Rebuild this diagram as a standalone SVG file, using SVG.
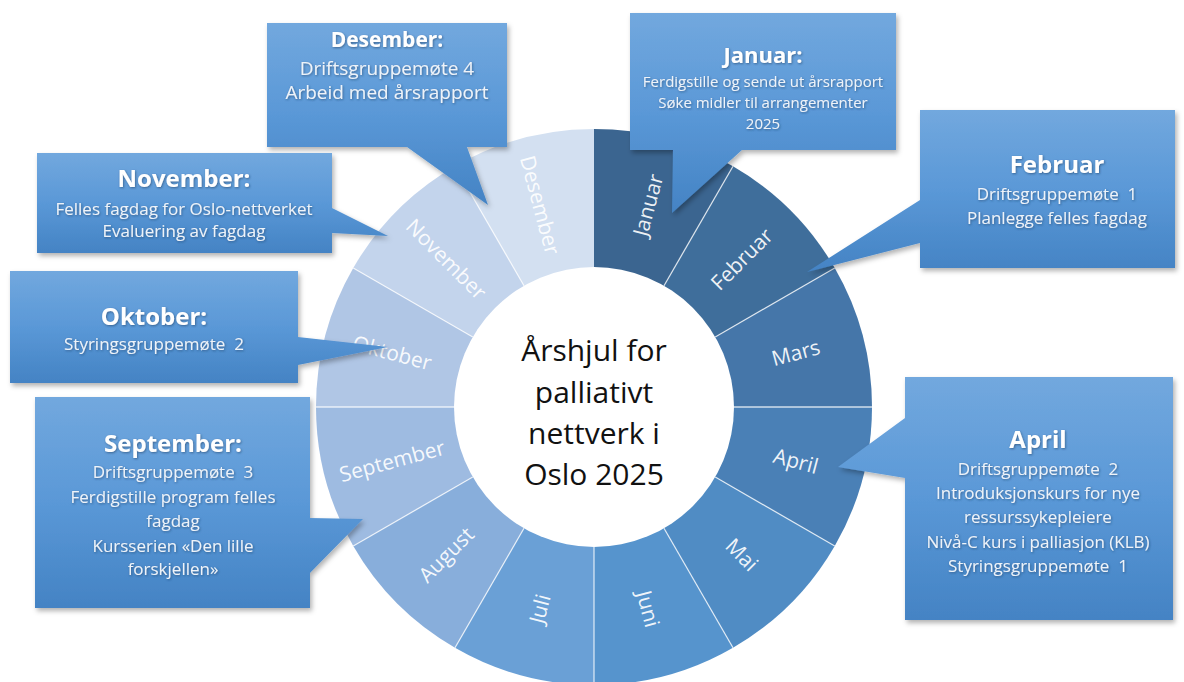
<svg xmlns="http://www.w3.org/2000/svg" width="1184" height="682" viewBox="0 0 1184 682">
<defs>
<linearGradient id="boxGrad" x1="0" y1="0" x2="0" y2="1">
<stop offset="0" stop-color="#72a8de"/>
<stop offset="0.5" stop-color="#5a98d7"/>
<stop offset="1" stop-color="#4483c4"/>
</linearGradient>
<filter id="boxShadow" x="-10%" y="-10%" width="125%" height="130%">
<feDropShadow dx="2" dy="3" stdDeviation="2.5" flood-color="#000" flood-opacity="0.3"/>
</filter>
<filter id="txtShadow" x="-5%" y="-20%" width="110%" height="150%">
<feDropShadow dx="0.8" dy="1" stdDeviation="0.8" flood-color="#1a3a60" flood-opacity="0.6"/>
</filter>
<style>
.box { fill: url(#boxGrad); filter: url(#boxShadow); }
.ttl { font-family: "Open Sans", "Liberation Sans", sans-serif; font-weight: bold; fill: #ffffff; text-anchor: middle; }
.bdy { font-family: "Open Sans", "Liberation Sans", sans-serif; fill: #eef3f9; text-anchor: middle; }
.mon { font-family: "Open Sans", "Liberation Sans", sans-serif; font-size: 21px; fill: #ffffff; fill-opacity: 0.92; text-anchor: middle; }
.sep { stroke: #ffffff; stroke-opacity: 0.75; stroke-width: 1.3; }
.ctr { font-family: "Open Sans", "Liberation Sans", sans-serif; font-size: 30px; fill: #111111; text-anchor: middle; }
</style>
</defs>
<rect width="1184" height="682" fill="#ffffff"/>

<g id="wheel">
<path id="seg-januar" d="M594 407 L594 129 A278 278 0 0 1 733 166.25 Z" fill="#3b6590"/>
<path id="seg-februar" d="M594 407 L733 166.25 A278 278 0 0 1 834.75 268 Z" fill="#3f6e9b"/>
<path id="seg-mars" d="M594 407 L834.75 268 A278 278 0 0 1 872 407 Z" fill="#4576a9"/>
<path id="seg-april" d="M594 407 L872 407 A278 278 0 0 1 834.75 546 Z" fill="#4a80b6"/>
<path id="seg-mai" d="M594 407 L834.75 546 A278 278 0 0 1 733 647.75 Z" fill="#508cc4"/>
<path id="seg-juni" d="M594 407 L733 647.75 A278 278 0 0 1 594 685 Z" fill="#5694cd"/>
<path id="seg-juli" d="M594 407 L594 685 A278 278 0 0 1 455 647.75 Z" fill="#6aa0d6"/>
<path id="seg-august" d="M594 407 L455 647.75 A278 278 0 0 1 353.25 546 Z" fill="#88aedb"/>
<path id="seg-september" d="M594 407 L353.25 546 A278 278 0 0 1 316 407 Z" fill="#9ebbe1"/>
<path id="seg-oktober" d="M594 407 L316 407 A278 278 0 0 1 353.25 268 Z" fill="#b0c6e5"/>
<path id="seg-november" d="M594 407 L353.25 268 A278 278 0 0 1 455 166.25 Z" fill="#c3d4ec"/>
<path id="seg-desember" d="M594 407 L455 166.25 A278 278 0 0 1 594 129 Z" fill="#d3e0f1"/>
<g id="separators">
<line class="sep" x1="664" y1="285.76" x2="733" y2="166.25"/>
<line class="sep" x1="715.24" y1="337" x2="834.75" y2="268"/>
<line class="sep" x1="734" y1="407" x2="872" y2="407"/>
<line class="sep" x1="715.24" y1="477" x2="834.75" y2="546"/>
<line class="sep" x1="664" y1="528.24" x2="733" y2="647.75"/>
<line class="sep" x1="594" y1="547" x2="594" y2="685"/>
<line class="sep" x1="524" y1="528.24" x2="455" y2="647.75"/>
<line class="sep" x1="472.76" y1="477" x2="353.25" y2="546"/>
<line class="sep" x1="454" y1="407" x2="316" y2="407"/>
<line class="sep" x1="472.76" y1="337" x2="353.25" y2="268"/>
<line class="sep" x1="524" y1="285.76" x2="455" y2="166.25"/>
</g>
<circle cx="594" cy="407" r="140" fill="#ffffff"/>
<g id="month-labels">
<text class="mon" transform="translate(648.1 205.1) rotate(-75)" dy="0.35em">Januar</text>
<text class="mon" transform="translate(741.8 259.2) rotate(-45)" dy="0.35em">Februar</text>
<text class="mon" transform="translate(795.9 352.9) rotate(-15)" dy="0.35em">Mars</text>
<text class="mon" transform="translate(795.9 461.1) rotate(15)" dy="0.35em">April</text>
<text class="mon" transform="translate(741.8 554.8) rotate(45)" dy="0.35em">Mai</text>
<text class="mon" transform="translate(648.1 608.9) rotate(75)" dy="0.35em">Juni</text>
<text class="mon" transform="translate(539.9 608.9) rotate(-75)" dy="0.35em">Juli</text>
<text class="mon" transform="translate(446.2 554.8) rotate(-45)" dy="0.35em">August</text>
<text class="mon" transform="translate(392.1 461.1) rotate(-15)" dy="0.35em">September</text>
<text class="mon" transform="translate(392.1 352.9) rotate(15)" dy="0.35em">Oktober</text>
<text class="mon" transform="translate(446.2 259.2) rotate(45)" dy="0.35em">November</text>
<text class="mon" transform="translate(539.9 205.1) rotate(75)" dy="0.35em">Desember</text>
</g>
<g id="center-title">
<text class="ctr" x="594" y="361">Årshjul for</text>
<text class="ctr" x="594" y="403">palliativt</text>
<text class="ctr" x="594" y="444">nettverk i</text>
<text class="ctr" x="594" y="485">Oslo 2025</text>
</g>
</g>

<g id="connectors"></g>

<g id="callout-desember">
<path class="box" d="M267 23 H507 V147 H467 L488 205 L407 147 H267 Z"/>
<g filter="url(#txtShadow)">
<text class="ttl" x="387" y="47" font-size="21">Desember:</text>
<text class="bdy" x="387" y="75" font-size="19">Driftsgruppemøte 4</text>
<text class="bdy" x="387" y="99" font-size="19">Arbeid med årsrapport</text>
</g>
</g>

<g id="callout-januar">
<path class="box" d="M630 13 H896 V150 H742 L672 213 L673 150 H630 Z"/>
<g filter="url(#txtShadow)">
<text class="ttl" x="763" y="63" font-size="22">Januar:</text>
<text class="bdy" x="763" y="87" font-size="15">Ferdigstille og sende ut årsrapport</text>
<text class="bdy" x="763" y="108" font-size="15">Søke midler til arrangementer</text>
<text class="bdy" x="763" y="129" font-size="15">2025</text>
</g>
</g>

<g id="callout-februar">
<path class="box" d="M920 110 H1175 V268 H920 V243 L807 272 L920 200 Z"/>
<g filter="url(#txtShadow)">
<text class="ttl" x="1057" y="173" font-size="24">Februar</text>
<text class="bdy" x="1057" y="200" font-size="17" xml:space="preserve">Driftsgruppemøte  1</text>
<text class="bdy" x="1057" y="224" font-size="17">Planlegge felles fagdag</text>
</g>
</g>

<g id="callout-november">
<path class="box" d="M37 153 H332 V208 L388 236 L332 233 V253 H37 Z"/>
<g filter="url(#txtShadow)">
<text class="ttl" x="184" y="187" font-size="24">November:</text>
<text class="bdy" x="184" y="215" font-size="17">Felles fagdag for Oslo-nettverket</text>
<text class="bdy" x="184" y="237" font-size="17">Evaluering av fagdag</text>
</g>
</g>

<g id="callout-oktober">
<path class="box" d="M10 271 H298 V337 L388 347 L298 365 V383 H10 Z"/>
<g filter="url(#txtShadow)">
<text class="ttl" x="154" y="325" font-size="24">Oktober:</text>
<text class="bdy" x="154" y="350" font-size="17" xml:space="preserve">Styringsgruppemøte  2</text>
</g>
</g>

<g id="callout-september">
<path class="box" d="M35 397 H310 V518 L363 519 L310 573 V608 H35 Z"/>
<g filter="url(#txtShadow)">
<text class="ttl" x="173" y="452" font-size="24">September:</text>
<text class="bdy" x="173" y="478" font-size="17" xml:space="preserve">Driftsgruppemøte  3</text>
<text class="bdy" x="173" y="503" font-size="17">Ferdigstille program felles</text>
<text class="bdy" x="173" y="527" font-size="17">fagdag</text>
<text class="bdy" x="173" y="552" font-size="17">Kursserien «Den lille</text>
<text class="bdy" x="173" y="575" font-size="17">forskjellen»</text>
</g>
</g>

<g id="callout-april">
<path class="box" d="M905 377 H1173 V620 H905 V478 L838 467 L905 418 Z"/>
<g filter="url(#txtShadow)">
<text class="ttl" x="1038" y="448" font-size="24">April</text>
<text class="bdy" x="1038" y="475" font-size="17" xml:space="preserve">Driftsgruppemøte  2</text>
<text class="bdy" x="1038" y="499" font-size="17">Introduksjonskurs for nye</text>
<text class="bdy" x="1038" y="523" font-size="17">ressurssykepleiere</text>
<text class="bdy" x="1038" y="548" font-size="17">Nivå-C kurs i palliasjon (KLB)</text>
<text class="bdy" x="1038" y="572" font-size="17" xml:space="preserve">Styringsgruppemøte  1</text>
</g>
</g>
</svg>
